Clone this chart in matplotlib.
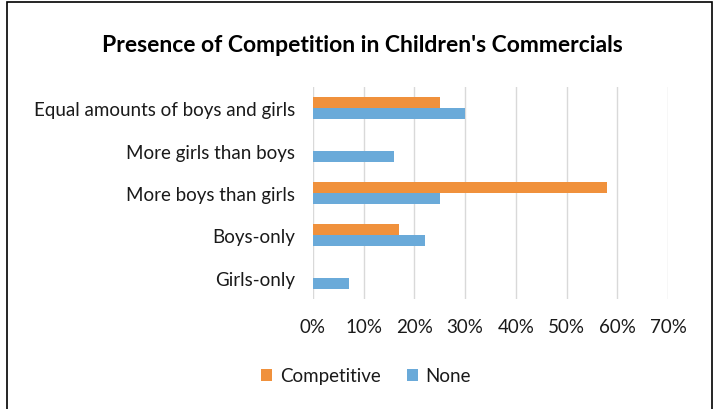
import matplotlib

matplotlib.use("Agg")
import matplotlib.pyplot as plt
from matplotlib.patches import Rectangle
from matplotlib.ticker import PercentFormatter
import numpy as np

# data (bottom -> top)
categories = ["Girls-only", "Boys-only", "More boys than girls",
              "More girls than boys", "Equal amounts of boys and girls"]
competitive = [0, 17, 58, 0, 25]
none = [7, 22, 25, 16, 30]
xticks = [0, 10, 20, 30, 40, 50, 60, 70]

ORANGE = "#F0913C"
BLUE = "#6AAAD9"
GRID = "#D9D9D9"

plt.rcParams["font.family"] = ["Lato", "DejaVu Sans"]

W, H = 715, 410
fig = plt.figure(figsize=(W / 100, H / 100), dpi=100)
ax = fig.add_axes([313 / W, 1 - 300 / H, (668 - 313) / W, (300 - 88) / H])

y = np.arange(len(categories))
h = 0.26
ax.barh(y + h / 2, competitive, height=h, color=ORANGE, label="Competitive", zorder=3)
ax.barh(y - h / 2, none, height=h, color=BLUE, label="None", zorder=3)

ax.set_xlim(0, 70)
ax.set_ylim(-0.5, len(categories) - 0.5)
ax.set_xticks(xticks)
ax.xaxis.set_major_formatter(PercentFormatter(decimals=0))
ax.set_yticks(y)
ax.set_yticklabels(categories)
ax.tick_params(axis="both", length=0, labelsize=13.5, colors="#1a1a1a")
ax.tick_params(axis="x", pad=14)
ax.tick_params(axis="y", pad=13)
ax.grid(axis="x", color=GRID, linewidth=1, zorder=0)
for s in ax.spines.values():
    s.set_visible(False)

fig.text(362 / W, 1 - 45 / H, "Presence of Competition in Children's Commercials",
         ha="center", va="center", fontsize=16.5, fontweight="bold", color="black")

fig.legend(loc="center", bbox_to_anchor=(366 / W, 1 - 377 / H), ncol=2, frameon=False,
           fontsize=13.5, handlelength=0.6, handleheight=0.6, handletextpad=0.4,
           columnspacing=1.4, labelcolor="#1a1a1a")

fig.patches.append(Rectangle((7 / W, -0.05), (712 - 7) / W, 1.05 - 3 / H,
                             transform=fig.transFigure, fill=False,
                             edgecolor="black", linewidth=1.2))

fig.savefig("out.png", dpi=100)
